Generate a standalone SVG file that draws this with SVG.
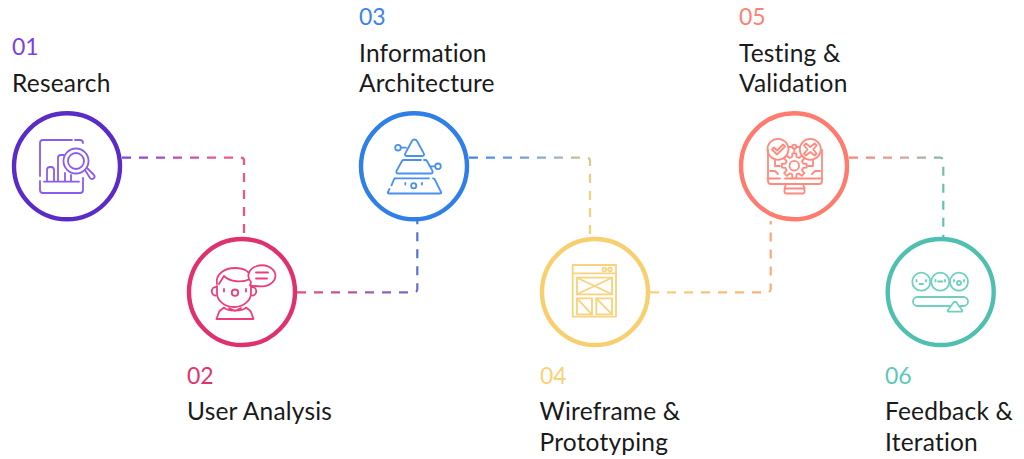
<svg xmlns="http://www.w3.org/2000/svg" width="1024" height="459" viewBox="0 0 1024 459">
<style>
text{font-family:"Lato","Open Sans","Liberation Sans",sans-serif;}
.num{font-size:23px;}
.lbl{font-size:24.5px;fill:#1a1a1a;letter-spacing:.2px;}
.ring{fill:#fff;stroke-width:4.4;}
.ico{fill:none;stroke-width:1.8;stroke-linecap:round;stroke-linejoin:round;}
.con{fill:none;stroke-width:2.2;stroke-dasharray:9 8;}
</style>
<defs>
<linearGradient id="g1" gradientUnits="userSpaceOnUse" x1="122" y1="157" x2="244" y2="200"><stop offset="0" stop-color="#7a45e0"/><stop offset="0.75" stop-color="#ee5a8e"/><stop offset="1" stop-color="#f5517a"/></linearGradient>
<linearGradient id="g2" gradientUnits="userSpaceOnUse" x1="297" y1="292" x2="417" y2="250"><stop offset="0" stop-color="#ec4a78"/><stop offset="0.8" stop-color="#7a68c8"/><stop offset="1" stop-color="#4f74dc"/></linearGradient>
<linearGradient id="g3" gradientUnits="userSpaceOnUse" x1="469" y1="157" x2="590" y2="200"><stop offset="0" stop-color="#3f86ee"/><stop offset="0.45" stop-color="#7fa4d8"/><stop offset="0.8" stop-color="#c5bfa0"/><stop offset="1" stop-color="#f5d27a"/></linearGradient>
<linearGradient id="g4" gradientUnits="userSpaceOnUse" x1="650" y1="292" x2="770" y2="225"><stop offset="0" stop-color="#f8d378"/><stop offset="1" stop-color="#ffa274"/></linearGradient>
<linearGradient id="g5" gradientUnits="userSpaceOnUse" x1="849" y1="157" x2="943" y2="200"><stop offset="0" stop-color="#ff8076"/><stop offset="0.5" stop-color="#d9a59c"/><stop offset="0.75" stop-color="#8fb8ac"/><stop offset="1" stop-color="#62c1b0"/></linearGradient>
</defs>
<rect width="1024" height="459" fill="#fff"/>
<g id="connectors">
<path class="con" stroke="url(#g1)" d="M122 157.7H241a3 3 0 0 1 3 3V237"/>
<path class="con" stroke="url(#g2)" d="M297 292.3H414.3a3 3 0 0 0 3-3V221"/>
<path class="con" stroke="url(#g3)" d="M469 157.7H587a3 3 0 0 1 3 3V237"/>
<path class="con" stroke="url(#g4)" d="M650 292.3H767.7a3 3 0 0 0 3-3V221"/>
<path class="con" stroke="url(#g5)" d="M849 157.7H940.3a3 3 0 0 1 3 3V237"/>
</g>
<g id="node1">
<circle class="ring" cx="67" cy="166.3" r="53" stroke="#5a2bc8"/>
<g class="ico" stroke="#8a5cf0">
<path d="M72 140H43a3 3 0 0 0-3 3V176M40 181V190a3 3 0 0 0 3 3H80a3 3 0 0 0 3-3V178M75 140H80a3 3 0 0 1 3 3"/>
<path d="M44 181.7H79M47 181V170a3 3 0 0 1 3-3h1a3 3 0 0 1 3 3V181M58 181V158a3 3 0 0 1 3-3h3M65 173V181M71 175V181"/>
<circle cx="76" cy="161" r="12.5"/><circle cx="76" cy="161" r="8"/>
<path d="M85 170L90 178a2.5 2.5 0 0 0 4-3L87 168"/>
</g>
<text class="num" x="12" y="55" fill="#7b3fe4">01</text>
<text class="lbl" x="12" y="92">Research</text>
</g>
<g id="node2">
<circle class="ring" cx="242" cy="292" r="53" stroke="#e0316f"/>
<g class="ico" stroke="#ea3f7c">
<path d="M217 286V293a17 14 0 0 0 34 0V286"/>
<path d="M217 284c-2-10 8-16 18-16c10 0 16 4 15 11c-8 4-20 3-26-3l-5 8M250 279c3 1 4 4 4 7"/>
<path d="M216 287a4.200 4.200 0 1 0 0 8.500M252 287a4.200 4.200 0 1 1 0 8.500"/>
<ellipse cx="235" cy="292.700" rx="3.200" ry="3.200"/>
<path d="M224 289v2.500M246 289v2.500"/>
<path d="M216.500 319l2.500-7c1-2 3-3 5-4.500c3 4 19 4 22 0c2 1.500 4 2.500 5 4.500l2.500 7zM229 308l6 3l6-3"/>
<path d="M250 285.500l1-3.500a13.500 10.500 0 1 1 11 4.300c-4 0-8 0-12-.8zM256 272.500h12M256 278.500h11" fill="#fff"/>
</g>
<text class="num" x="187" y="384" fill="#e0336f">02</text>
<text class="lbl" x="187" y="420">User Analysis</text>
</g>
<g id="node3">
<circle class="ring" cx="414" cy="166.3" r="53" stroke="#2f7fe8"/>
<g class="ico" stroke="#4b90f0">
<path d="M412 141l-6 11c-2 3-1 4 1 4h15c2 0 3-1 1-4l-6-11c-1-2-4-2-5 0zM406 147.700H401"/>
<circle cx="398" cy="147.700" r="2.800"/>
<path d="M421 160H404a2 2 0 0 0-2 1l-5 9c-1 2-1 3.500 1 3.500H431c2 0 2-1.500 1-3.500l-5-9a2 2 0 0 0-2-1H424M430 166.300h5"/>
<circle cx="438" cy="166.300" r="2.800"/>
<path d="M429 178.300H396a2 2 0 0 0-2 1l-2.500 6M389.500 189l-1.500 3c-.5 1 0 1.500 1 1.500H440c1 0 1.500-.5 1-1.500l-6-12a2 2 0 0 0-2-1.700"/>
<circle cx="413.700" cy="185.700" r="2.600"/><path d="M405.300 183v1.500M422 183v1.500"/>
</g>
<text class="num" x="359" y="25" fill="#3b82f0">03</text>
<text class="lbl" x="359" y="62">Information</text>
<text class="lbl" x="359" y="92">Architecture</text>
</g>
<g id="node4">
<circle class="ring" cx="595" cy="292" r="53" stroke="#f7cf6e"/>
<g class="ico" stroke="#f8d27c">
<rect x="572.700" y="265" width="43.300" height="51.700"/><path d="M572.700 273.300H616"/>
<circle cx="604.300" cy="269.500" r="1.800"/><circle cx="610" cy="269.500" r="1.800"/>
<rect x="577" y="277.700" width="35" height="16.600"/><path d="M577 277.700L612 294.300M612 277.700L577 294.300"/>
<rect x="577" y="298.300" width="15" height="16"/><path d="M577 298.300L592 314.300"/>
<rect x="596.300" y="298.300" width="15.700" height="16"/><path d="M596.300 298.300L612 314.300"/>
</g>
<text class="num" x="540" y="384" fill="#f8d27a">04</text>
<text class="lbl" x="539.500" y="420">Wireframe &amp;</text>
<text class="lbl" x="539.500" y="451">Prototyping</text>
</g>
<g id="node5">
<circle class="ring" cx="794" cy="166.300" r="53" stroke="#ff7b6e"/>
<g class="ico" stroke="#ff8a7e">
<path d="M768 150v31a3 3 0 0 0 3 3H819a3 3 0 0 0 3-3V150M767.500 178.500H780M785 178.500H822"/>
<path d="M786 184l-1.500 4.500M803 184l1.500 4.500"/>
<rect x="784.500" y="188.500" width="20" height="5" rx="1.500"/>
<circle cx="778" cy="149.300" r="10.500"/>
<path d="M772 149.500l2-2l3 3l6-6l2 2l-8 8z"/>
<circle cx="810.300" cy="149.300" r="10.500"/>
<path d="M806 143.500l4.300 3.500l4.300-3.500l2 2l-3.500 4l3.500 4l-2 2l-4.300-3.500l-4.300 3.500l-2-2l3.500-4l-3.500-4z"/>
<circle cx="794.300" cy="146.700" r="2"/>
<path d="M788.500 147H792.300M796.300 147H800M794.300 148.700V153"/>
<path d="M775 160v6l5 0M813 160v6l-5 0M770 171l5 0l3 3M820 171l-5 0l-3 3"/>
<path transform="translate(794.300 165.700)" d="M8.730-2.180L12.350-1.960 12.350 1.960 8.730 2.180 7.710 4.640 10.110 7.350 7.350 10.110 4.640 7.710 2.180 8.730 1.960 12.350-1.960 12.350-2.180 8.730-4.640 7.710-7.350 10.110-10.110 7.350-7.710 4.640-8.730 2.180-12.350 1.960-12.350-1.960-8.730-2.180-7.710-4.640-10.110-7.350-7.350-10.110-4.640-7.710-2.180-8.730-1.960-12.350 1.960-12.350 2.180-8.730 4.640-7.710 7.350-10.110 10.110-7.350 7.710-4.640Z" fill="#fff"/>
<circle cx="794.300" cy="165.700" r="4.800"/>
</g>
<text class="num" x="739" y="25" fill="#ff7f72">05</text>
<text class="lbl" x="739" y="62">Testing &amp;</text>
<text class="lbl" x="739" y="92">Validation</text>
</g>
<g id="node6">
<circle class="ring" cx="940.700" cy="292" r="53" stroke="#4fbfaf"/>
<g class="ico" stroke="#6fd0c0">
<circle cx="921.300" cy="281.700" r="9"/><circle cx="940.300" cy="281.700" r="9"/><circle cx="959" cy="281.700" r="9"/>
<path d="M916.500 280v1.500M926 280v1.500M919.500 284h3.500M935.500 280v1.500M945 280v1.500M938 281.500h4.500M954 280v1.500M964 280v1.500"/>
<circle cx="959" cy="283" r="2"/>
<path d="M950 306H917.500a4.500 4.500 0 0 1 0-9H963.500a4.500 4.500 0 0 1 0 9H960"/>
<path d="M953.500 302.500l-5.500 7.500c-.7 1-.3 1.700 1 1.700H961c1.300 0 1.700-.7 1-1.700l-5.500-7.500c-.7-1-2.300-1-3 0z" fill="#fff"/>
</g>
<text class="num" x="885" y="384" fill="#5cc8b8">06</text>
<text class="lbl" x="885" y="420">Feedback &amp;</text>
<text class="lbl" x="885" y="451">Iteration</text>
</g>
</svg>
